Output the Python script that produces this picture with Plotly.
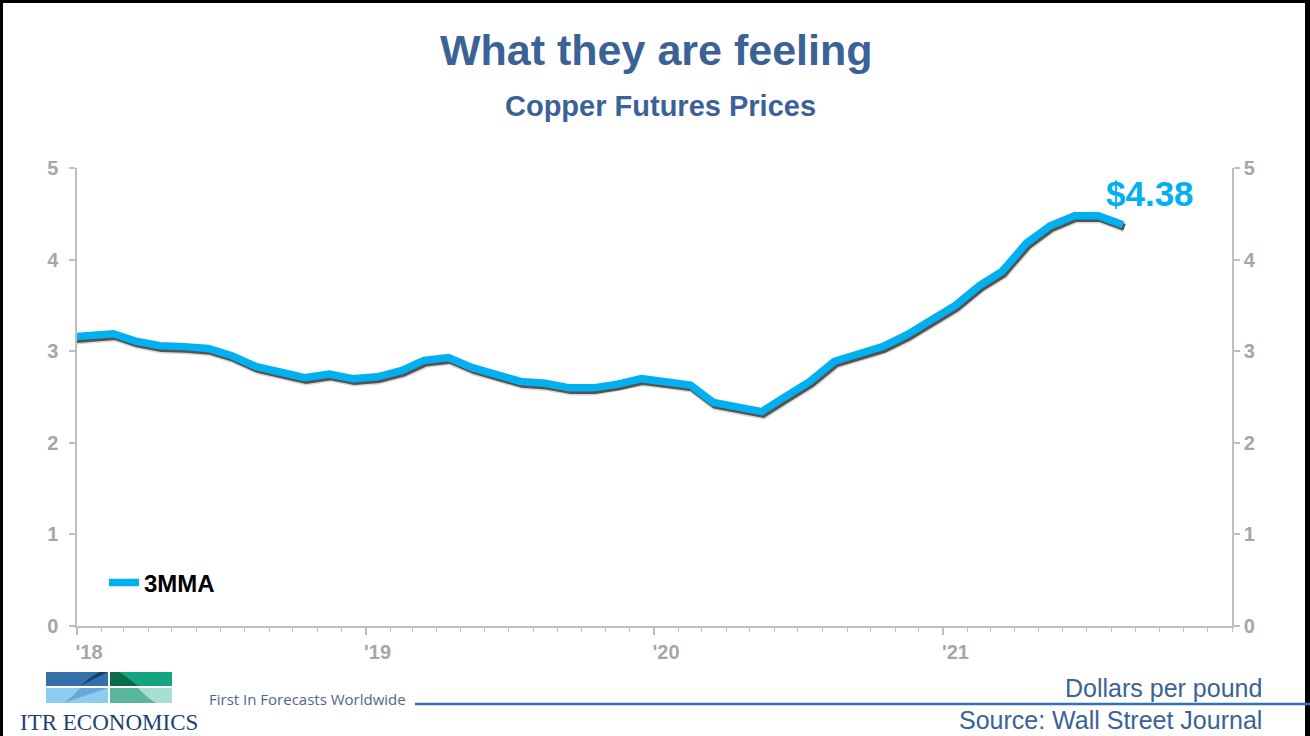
import pandas as pd
import plotly.graph_objects as go

# Copper futures, 3-month moving average, dollars per pound
months = [
    "2017-12",
    "2018-01", "2018-02", "2018-03", "2018-04", "2018-05", "2018-06",
    "2018-07", "2018-08", "2018-09", "2018-10", "2018-11", "2018-12",
    "2019-01", "2019-02", "2019-03", "2019-04", "2019-05", "2019-06",
    "2019-07", "2019-08", "2019-09", "2019-10", "2019-11", "2019-12",
    "2020-01", "2020-02", "2020-03", "2020-04", "2020-05", "2020-06",
    "2020-07", "2020-08", "2020-09", "2020-10", "2020-11", "2020-12",
    "2021-01", "2021-02", "2021-03", "2021-04", "2021-05", "2021-06",
    "2021-07", "2021-08",
]
copper_3mma = [
    3.15,
    3.17, 3.19, 3.11, 3.06, 3.05, 3.03,
    2.95, 2.83, 2.77, 2.71, 2.75, 2.70,
    2.72, 2.79, 2.90, 2.93, 2.82, 2.74,
    2.67, 2.65, 2.60, 2.60, 2.64, 2.70,
    2.67, 2.63, 2.44, 2.39, 2.34, 2.51,
    2.67, 2.89, 2.98, 3.05, 3.18, 3.33,
    3.50, 3.72, 3.87, 4.18, 4.37, 4.48,
    4.48, 4.38,
]
year_ticks = ["2018-01-01", "2019-01-01", "2020-01-01", "2021-01-01"]
year_labels = ["'18", "'19", "'20", "'21"]

# each monthly value sits in the middle of its month
dates = pd.to_datetime(months) + pd.Timedelta(days=15)

BLUE = "#00B0F0"
NAVY = "#3B6296"
GREY = "#A6A6A6"
AXIS = "#BFBFBF"
FONT = "Arial, Liberation Sans, sans-serif"

W, H = 1310, 736
ML, MR, MT, MB = 77, 78, 168, 110
PW, PH = W - ML - MR, H - MT - MB


def px(xp):
    return (xp - ML) / PW


def py(yp):
    return (H - MB - yp) / PH


fig = go.Figure()

# soft drop shadow under the line
shadow_x = dates + pd.Timedelta(days=2)
shadow_y = [v - 0.03 for v in copper_3mma]
fig.add_trace(go.Scatter(
    x=shadow_x, y=shadow_y, mode="lines",
    line=dict(color="rgba(0,0,0,0.15)", width=10),
    hoverinfo="skip", showlegend=False, yaxis="y",
))
fig.add_trace(go.Scatter(
    x=shadow_x, y=shadow_y, mode="lines",
    line=dict(color="rgba(0,0,0,0.62)", width=7),
    hoverinfo="skip", showlegend=False, yaxis="y",
))
fig.add_trace(go.Scatter(
    x=dates, y=copper_3mma, mode="lines", name="3MMA",
    line=dict(color=BLUE, width=7.5), yaxis="y2",
))

yax = dict(
    range=[0, 5], tickvals=[0, 1, 2, 3, 4, 5], showgrid=False, zeroline=False,
    showline=True, linecolor=AXIS, linewidth=1.5,
    ticks="outside", ticklen=6, tickcolor=AXIS, tickwidth=1.5,
    tickfont=dict(family=FONT, size=20, color=GREY, weight="bold"),
    fixedrange=True,
)

fig.update_layout(
    width=W, height=H,
    margin=dict(l=ML, r=MR, t=MT, b=MB),
    paper_bgcolor="white", plot_bgcolor="white",
    xaxis=dict(
        type="date", range=["2018-01-01", "2022-01-01"],
        tickvals=year_ticks, ticktext=year_labels, ticklabelshift=12,
        showgrid=False, zeroline=False, showline=True,
        linecolor=AXIS, linewidth=1.5,
        ticks="outside", ticklen=7, tickcolor=AXIS, tickwidth=1.5,
        minor=dict(dtick="M1", ticks="outside", ticklen=4,
                   tickcolor=AXIS, tickwidth=1.2, showgrid=False),
        tickfont=dict(family=FONT, size=20, color=GREY, weight="bold"),
    ),
    yaxis=dict(side="left", ticklabelstandoff=7, **yax),
    yaxis2=dict(side="right", overlaying="y", anchor="x", **yax),
    showlegend=True,
    legend=dict(
        x=px(104), y=py(583), xanchor="left", yanchor="middle",
        bgcolor="rgba(0,0,0,0)", borderwidth=0,
        font=dict(family=FONT, size=24, color="black", weight="bold"),
    ),
)

annotations = [
    dict(text="What they are feeling", x=px(656), y=py(50),
         font=dict(family=FONT, size=43, color=NAVY, weight="bold")),
    dict(text="Copper Futures Prices", x=px(660), y=py(106),
         font=dict(family=FONT, size=29, color=NAVY, weight="bold")),
    dict(text="Dollars per pound", x=px(1264), y=py(688), xanchor="right",
         font=dict(family=FONT, size=25, color=NAVY)),
    dict(text="Source: Wall Street Journal", x=px(1264), y=py(720),
         xanchor="right", font=dict(family=FONT, size=25, color=NAVY)),
    dict(text="First In Forecasts Worldwide", x=px(207), y=py(699),
         xanchor="left", font=dict(family="Open Sans, sans-serif",
                                   size=15, color="#4F6688")),
    dict(text="ITR ECONOMICS", x=px(18), y=py(722), xanchor="left",
         font=dict(family="Liberation Serif, Times New Roman, serif",
                   size=23, color="#1F3F73")),
]
for a in annotations:
    a.update(xref="paper", yref="paper", showarrow=False, yanchor="middle")
    a.setdefault("xanchor", "center")

# latest value label
annotations.append(dict(
    x=dates[-1], y=copper_3mma[-1], xref="x", yref="y2",
    text=f"${copper_3mma[-1]:.2f}", showarrow=False,
    xanchor="center", yanchor="middle", xshift=27, yshift=31,
    font=dict(family=FONT, size=35, color=BLUE, weight="bold"),
))
fig.update_layout(annotations=annotations)


def rect(x0, y0, x1, y1, color):
    return dict(type="rect", xref="paper", yref="paper",
                x0=px(x0), x1=px(x1), y0=py(y1), y1=py(y0),
                fillcolor=color, line=dict(width=0), layer="above")


def path(points, color):
    d = ""
    for cmd, pts in points:
        d += cmd + " " + " ".join(f"{px(a):.5f},{py(b):.5f}" for a, b in pts) + " "
    return dict(type="path", xref="paper", yref="paper", path=d + "Z",
                fillcolor=color, line=dict(width=0), layer="above")


shapes = [
    # frame
    rect(0, 0, W, 3, "black"),
    rect(0, 0, 3, H, "black"),
    rect(W - 5, 0, W, H, "black"),
    # footer rule
    dict(type="line", xref="paper", yref="paper",
         x0=px(415), x1=px(W), y0=py(704), y1=py(704),
         line=dict(color="#3272AE", width=2.5)),
    # logo tiles
    rect(46, 672, 108, 686, "#3371A8"),
    rect(110, 672, 172, 686, "#13A57F"),
    rect(46, 688, 108, 703, "#8DCDEF"),
    rect(110, 688, 172, 703, "#A8DED2"),
    path([("M", [(80, 686)]), ("Q", [(92, 676), (99, 672)]),
          ("L", [(108, 672), (108, 686)])], "#1D3E72"),
    path([("M", [(110, 672)]), ("L", [(119, 672)]),
          ("Q", [(126, 676), (138, 686)]), ("L", [(110, 686)])], "#0C6C4A"),
    path([("M", [(63, 703)]), ("Q", [(73, 697), (80, 688)]),
          ("L", [(108, 688), (108, 703)])], "#6AA7D7"),
    path([("M", [(110, 688)]), ("L", [(138, 688)]),
          ("Q", [(146, 697), (156, 703)]), ("L", [(110, 703)])], "#5AB79B"),
]
fig.update_layout(shapes=shapes)

fig.write_html("out.html")
